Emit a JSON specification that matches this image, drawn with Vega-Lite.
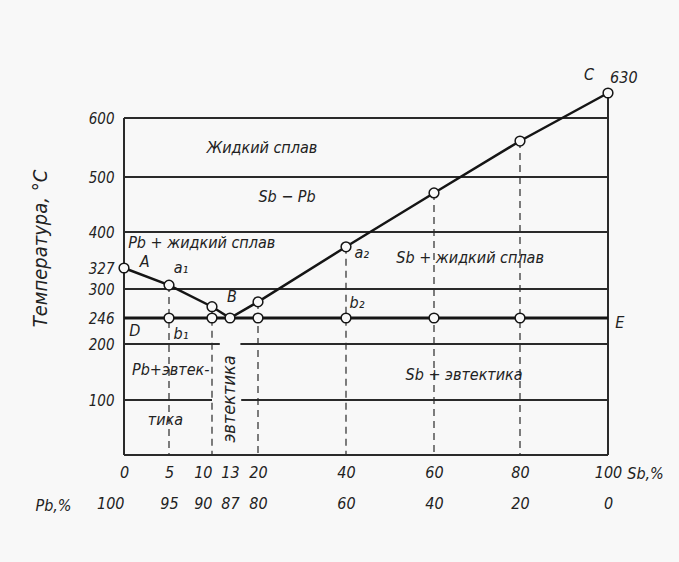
{
  "$schema": "https://vega.github.io/schema/vega-lite/v6.json",
  "width": 484,
  "height": 362,
  "autosize": "none",
  "padding": {"left": 124, "top": 93, "right": 71, "bottom": 107},
  "background": "#f8f8f8",
  "config": {
    "view": {"stroke": null},
    "font": "DejaVu Sans Condensed, Liberation Sans Narrow, DejaVu Sans, sans-serif",
    "axis": {"labelFontStyle": "italic", "titleFontStyle": "italic", "titleFontWeight": "normal", "labelColor": "#222", "titleColor": "#222"}
  },
  "datasets": {
    "hlines": [
      {"t": 0, "x1": 0, "x2": 100},
      {"t": 100, "x1": 0, "x2": 10},
      {"t": 100, "x1": 15.8, "x2": 100},
      {"t": 200, "x1": 0, "x2": 11.3},
      {"t": 200, "x1": 15.6, "x2": 100},
      {"t": 300, "x1": 0, "x2": 100},
      {"t": 400, "x1": 0, "x2": 100},
      {"t": 500, "x1": 0, "x2": 100},
      {"t": 600, "x1": 0, "x2": 100}
    ],
    "vlines": [
      {"x": 0, "t1": 0, "t2": 600},
      {"x": 100, "t1": 0, "t2": 630}
    ],
    "eut": [{"t": 246, "x1": 0, "x2": 100}],
    "drops": [
      {"x": 5, "t": 305},
      {"x": 10, "t": 267},
      {"x": 20, "t": 276},
      {"x": 40, "t": 370},
      {"x": 60, "t": 471},
      {"x": 80, "t": 561}
    ],
    "liq": [
      {"x": 0, "t": 327},
      {"x": 5, "t": 305},
      {"x": 10, "t": 267},
      {"x": 13, "t": 246},
      {"x": 20, "t": 276},
      {"x": 40, "t": 370},
      {"x": 60, "t": 471},
      {"x": 80, "t": 561},
      {"x": 100, "t": 630}
    ],
    "pts": [
      {"x": 0, "t": 327},
      {"x": 5, "t": 305},
      {"x": 10, "t": 267},
      {"x": 13, "t": 246},
      {"x": 20, "t": 276},
      {"x": 40, "t": 370},
      {"x": 60, "t": 471},
      {"x": 80, "t": 561},
      {"x": 100, "t": 630},
      {"x": 5, "t": 246},
      {"x": 10, "t": 246},
      {"x": 20, "t": 246},
      {"x": 40, "t": 246},
      {"x": 60, "t": 246},
      {"x": 80, "t": 246}
    ],
    "labels": [
      {"x": 20.9, "t": 549, "label": "Жидкий сплав"},
      {"x": 26.6, "t": 464, "label": "Sb − Pb"},
      {"x": 8.8, "t": 378, "label": "Pb + жидкий сплав"},
      {"x": 2.3, "t": 339, "label": "A"},
      {"x": 6.4, "t": 327, "label": "a₁"},
      {"x": 13.5, "t": 285, "label": "B"},
      {"x": 1.2, "t": 223, "label": "D"},
      {"x": 6.4, "t": 218, "label": "b₁"},
      {"x": 43.6, "t": 357, "label": "a₂"},
      {"x": 42.5, "t": 274, "label": "b₂"},
      {"x": 102.7, "t": 237, "label": "E"},
      {"x": 95.7, "t": 652, "label": "C"},
      {"x": 103.6, "t": 648, "label": "630"},
      {"x": 68.4, "t": 347, "label": "Sb + жидкий сплав"},
      {"x": 5.2, "t": 154, "label": "Pb+эвтек-"},
      {"x": 4.6, "t": 64, "label": "тика"},
      {"x": 67, "t": 145, "label": "Sb + эвтектика"}
    ],
    "vlabel": [{"x": 13, "t": 102, "label": "эвтектика"}]
  },
  "resolve": {"axis": {"x": "independent", "y": "independent"}},
  "layer": [
    {
      "data": {"name": "hlines"},
      "mark": {"type": "rule", "color": "#2a2a2a", "strokeWidth": 1.8},
      "encoding": {
        "x": {
          "field": "x1", "type": "quantitative",
          "scale": {"type": "linear", "domain": [0, 5, 10, 13, 20, 40, 60, 80, 100], "range": [0, 45, 88, 106, 134, 222, 310, 396, 484], "nice": false, "zero": false},
          "axis": {
            "orient": "bottom", "values": [0, 5, 10, 13, 20, 40, 60, 80, 100],
            "domain": false, "ticks": false, "grid": false, "labelPadding": 9,
            "labelFontSize": 16, "labelOverlap": false, "labelFlush": false,
            "labelAlign": {"condition": {"test": "datum.value == 10", "value": "right"}, "value": "center"},
            "title": "Sb,%", "titleFontSize": 16, "titleX": 521, "titleY": 18,
            "titleAlign": "center", "titleBaseline": "middle"
          }
        },
        "x2": {"field": "x2"},
        "y": {
          "field": "t", "type": "quantitative",
          "scale": {"type": "linear", "domain": [0, 100, 200, 246, 300, 327, 400, 500, 600, 630], "range": [362, 307, 251, 225, 196, 175, 139, 84, 25, 0], "nice": false, "zero": false},
          "axis": {
            "orient": "left",
            "values": [100, 200, 246, 300, 327, 400, 500, 600],
            "domain": false, "ticks": false, "grid": false, "labelPadding": 10,
            "labelFontSize": 15, "labelOverlap": false, "labelFlush": false,
            "title": "Температура, °С", "titleFontSize": 20, "titleAngle": -90,
            "titleX": -84, "titleY": 155, "titleAlign": "center", "titleBaseline": "middle"
          }
        }
      }
    },
    {
      "data": {"name": "drops"},
      "mark": {"type": "rule", "color": "#2a2a2a", "strokeWidth": 1.2, "strokeDash": [7, 5]},
      "encoding": {
        "x": {
          "field": "x", "type": "quantitative",
          "axis": {
            "orient": "bottom", "values": [0, 5, 10, 13, 20, 40, 60, 80, 100],
            "labelExpr": "format(100 - datum.value, 'd')",
            "domain": false, "ticks": false, "grid": false, "labelPadding": 40,
            "labelFontSize": 16, "labelOverlap": false, "labelFlush": false,
            "labelAlign": {"condition": {"test": "datum.value == 0 || datum.value == 10", "value": "right"}, "value": "center"},
            "title": "Pb,%", "titleFontSize": 16, "titleX": -71, "titleY": 50,
            "titleAlign": "center", "titleBaseline": "middle"
          }
        },
        "y": {"field": "t", "type": "quantitative", "axis": null},
        "y2": {"datum": 0}
      }
    },
    {
      "data": {"name": "vlines"},
      "mark": {"type": "rule", "color": "#2a2a2a", "strokeWidth": 2},
      "encoding": {
        "x": {"field": "x", "type": "quantitative", "axis": null},
        "y": {"field": "t1", "type": "quantitative", "axis": null},
        "y2": {"field": "t2"}
      }
    },
    {
      "data": {"name": "eut"},
      "mark": {"type": "rule", "color": "#151515", "strokeWidth": 3},
      "encoding": {
        "x": {"field": "x1", "type": "quantitative", "axis": null},
        "x2": {"field": "x2"},
        "y": {"field": "t", "type": "quantitative", "axis": null}
      }
    },
    {
      "data": {"name": "liq"},
      "mark": {"type": "line", "color": "#151515", "strokeWidth": 2.5},
      "encoding": {
        "x": {"field": "x", "type": "quantitative", "axis": null},
        "y": {"field": "t", "type": "quantitative", "axis": null}
      }
    },
    {
      "data": {"name": "pts"},
      "mark": {"type": "point", "shape": "circle", "filled": true, "fill": "#f8f8f8", "stroke": "#151515", "strokeWidth": 1.5, "size": 95, "opacity": 1},
      "encoding": {
        "x": {"field": "x", "type": "quantitative", "axis": null},
        "y": {"field": "t", "type": "quantitative", "axis": null}
      }
    },
    {
      "data": {"name": "labels"},
      "mark": {"type": "text", "fontSize": 16, "fontStyle": "italic", "color": "#222", "align": "center", "baseline": "middle"},
      "encoding": {
        "x": {"field": "x", "type": "quantitative", "axis": null},
        "y": {"field": "t", "type": "quantitative", "axis": null},
        "text": {"field": "label"}
      }
    },
    {
      "data": {"name": "vlabel"},
      "mark": {"type": "text", "fontSize": 18, "fontStyle": "italic", "color": "#222", "align": "center", "baseline": "middle", "angle": 270},
      "encoding": {
        "x": {"field": "x", "type": "quantitative", "axis": null},
        "y": {"field": "t", "type": "quantitative", "axis": null},
        "text": {"field": "label"}
      }
    }
  ]
}
